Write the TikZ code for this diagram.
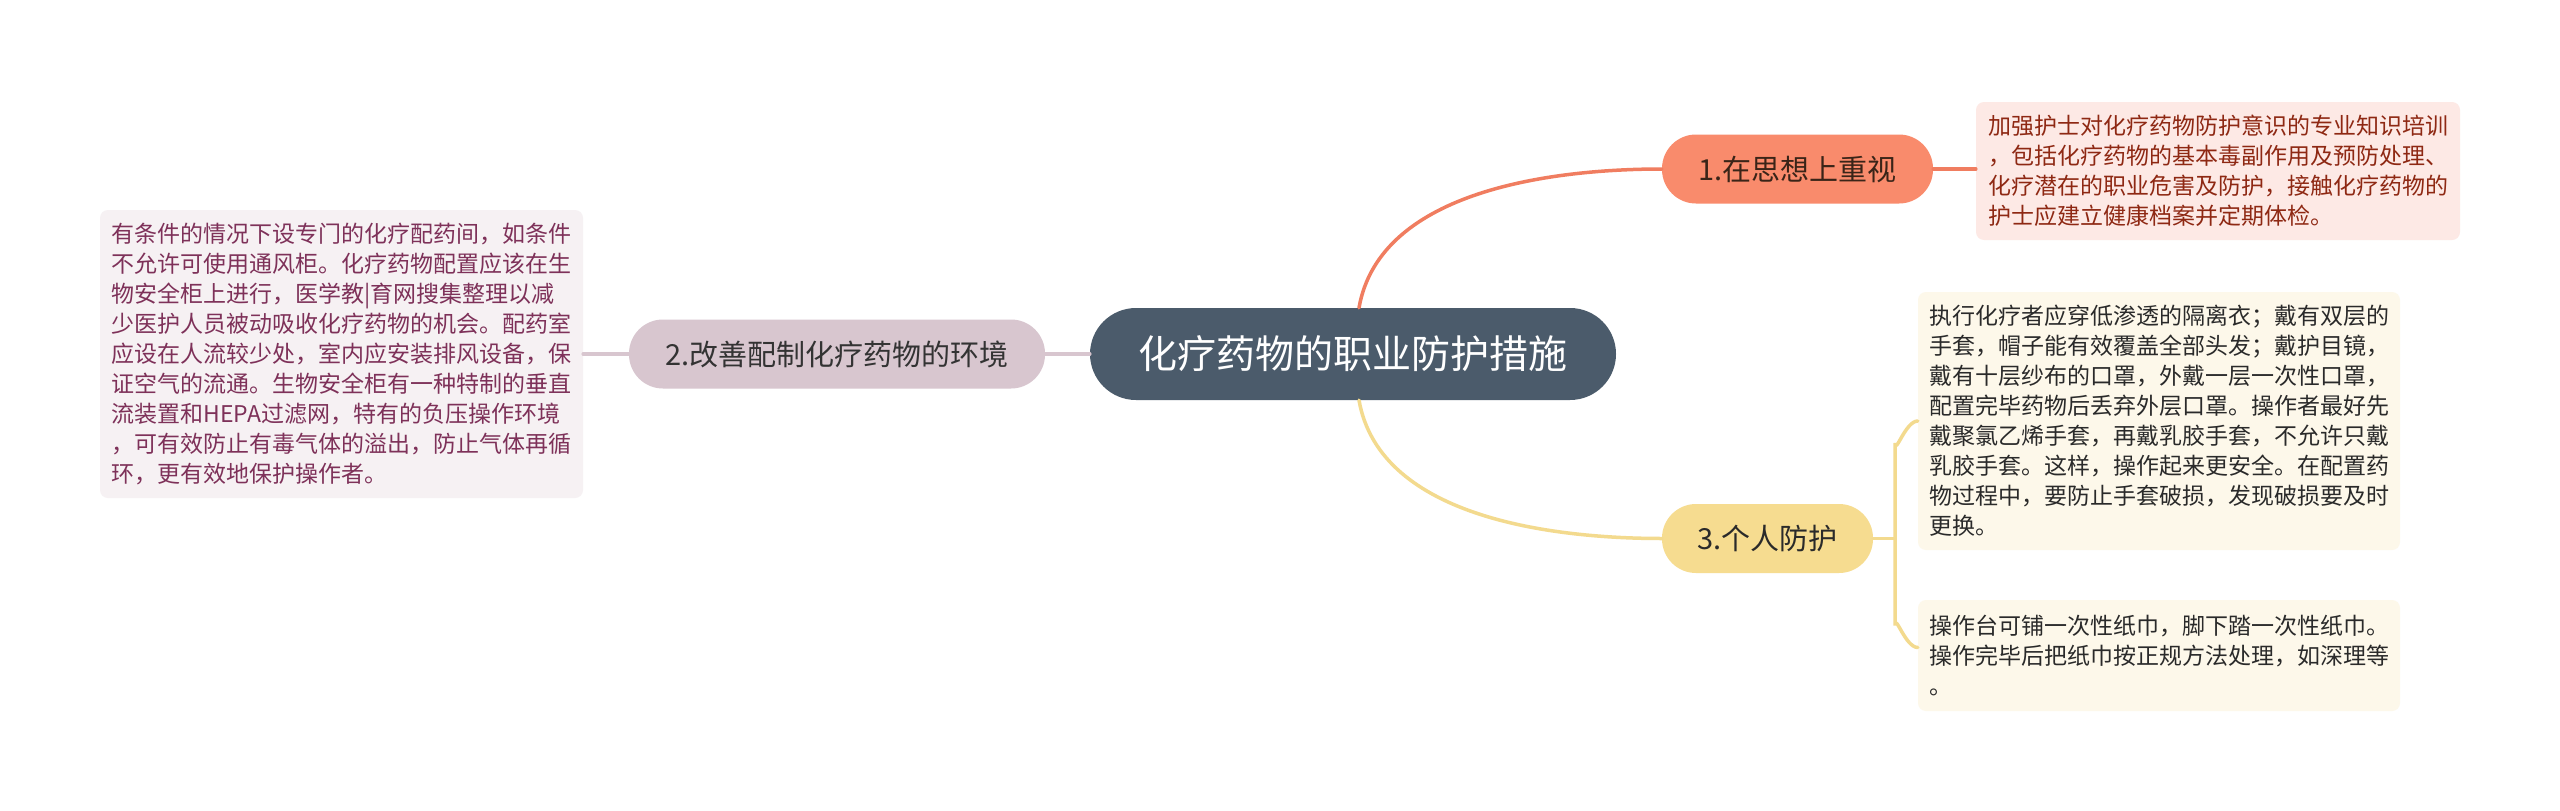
\documentclass[tikz,border=0pt]{standalone}
\usepackage{fontspec}
\setmainfont{Noto Sans CJK SC}
\usetikzlibrary{calc}
\definecolor{rootfill}{HTML}{4B5B6B}
\definecolor{onefill}{HTML}{F98B6C}
\definecolor{oneline}{HTML}{F07D60}
\definecolor{onetext}{HTML}{3A2418}
\definecolor{leafonefill}{HTML}{FDE9E5}
\definecolor{leafonetext}{HTML}{8E2813}
\definecolor{twofill}{HTML}{D8C6CF}
\definecolor{twoline}{HTML}{D8C6CF}
\definecolor{twotext}{HTML}{333333}
\definecolor{leaftwofill}{HTML}{F6F1F3}
\definecolor{leaftwotext}{HTML}{7E3159}
\definecolor{threefill}{HTML}{F6DC90}
\definecolor{threeline}{HTML}{F3DA8E}
\definecolor{threetext}{HTML}{2A2A2A}
\definecolor{leafthreefill}{HTML}{FDF8EA}
\definecolor{leafthreetext}{HTML}{2A2A2A}
\begin{document}
\begin{tikzpicture}[x=1pt,y=-1pt,
  rootnode/.style={fill=rootfill, text=white, rounded corners=46pt, minimum width=526pt, minimum height=92pt, inner sep=0pt, font=\fontsize{39}{44}\selectfont},
  pill/.style={rounded corners=34pt, minimum height=69pt, inner sep=0pt, font=\fontsize{29}{34}\selectfont},
  leafbox/.style={rounded corners=8pt, inner sep=0pt, align=left, text width=460pt, font=\fontsize{23}{30}\selectfont},
  link/.style={line width=3.5pt, line cap=round}
]
\useasboundingbox (0,0) rectangle (2560,811);
\fill[white] (0,0) rectangle (2560,811);

% root
\node[rootnode] (root) at (1353,354) {化疗药物的职业防护措施};

% branch 1
\node[pill, fill=onefill, text=onetext, minimum width=271pt] (n1) at (1797.5,169) {1.在思想上重视};
\node[leafbox, fill=leafonefill, text=leafonetext, minimum width=484pt, minimum height=138pt] (l1) at (2218,171)
 {加强护士对化疗药物防护意识的专业知识培训\\，包括化疗药物的基本毒副作用及预防处理、\\化疗潜在的职业危害及防护，接触化疗药物的\\护士应建立健康档案并定期体检。};

% branch 2
\node[pill, fill=twofill, text=twotext, minimum width=416pt] (n2) at (837,354) {2.改善配制化疗药物的环境};
\node[leafbox, fill=leaftwofill, text=leaftwotext, minimum width=483pt, minimum height=288pt] (l2) at (341.5,354)
 {有条件的情况下设专门的化疗配药间，如条件\\不允许可使用通风柜。化疗药物配置应该在生\\物安全柜上进行，医学教|育网搜集整理以减\\少医护人员被动吸收化疗药物的机会。配药室\\应设在人流较少处，室内应安装排风设备，保\\证空气的流通。生物安全柜有一种特制的垂直\\流装置和HEPA过滤网，特有的负压操作环境\\，可有效防止有毒气体的溢出，防止气体再循\\环，更有效地保护操作者。};

% branch 3
\node[pill, fill=threefill, text=threetext, minimum width=211pt] (n3) at (1767.5,538.5) {3.个人防护};
\node[leafbox, fill=leafthreefill, text=leafthreetext, minimum width=482pt, minimum height=258pt] (l3a) at (2159,421)
 {执行化疗者应穿低渗透的隔离衣；戴有双层的\\手套，帽子能有效覆盖全部头发；戴护目镜，\\戴有十层纱布的口罩，外戴一层一次性口罩，\\配置完毕药物后丢弃外层口罩。操作者最好先\\戴聚氯乙烯手套，再戴乳胶手套，不允许只戴\\乳胶手套。这样，操作起来更安全。在配置药\\物过程中，要防止手套破损，发现破损要及时\\更换。};
\node[leafbox, fill=leafthreefill, text=leafthreetext, minimum width=482pt, minimum height=111pt] (l3b) at (2159,655.5)
 {操作台可铺一次性纸巾，脚下踏一次性纸巾。\\操作完毕后把纸巾按正规方法处理，如深理等\\。};

% connectors
\draw[link, oneline] ([xshift=6pt]root.north) .. controls +(21,-120) and +(-102,0) .. (n1.west);
\draw[link, oneline] (n1.east) -- (n1.east -| l1.west);
\draw[link, twoline] (root.west) -- (n2.east);
\draw[link, twoline] (n2.west) -- (n2.west -| l2.east);
\draw[link, threeline] ([xshift=6pt]root.south) .. controls +(21,120) and +(-102,0) .. (n3.west);
\draw[link, threeline] (n3.east) -- ++(22,0) coordinate (fork);
\draw[link, threeline] (fork) -- ($(fork |- l3a.west)+(0,22)$) to[out=-90,in=180] (l3a.west);
\draw[link, threeline] (fork) -- ($(fork |- l3b.west)+(0,-30)$) to[out=90,in=180] ([yshift=8pt]l3b.west);
\end{tikzpicture}
\end{document}
